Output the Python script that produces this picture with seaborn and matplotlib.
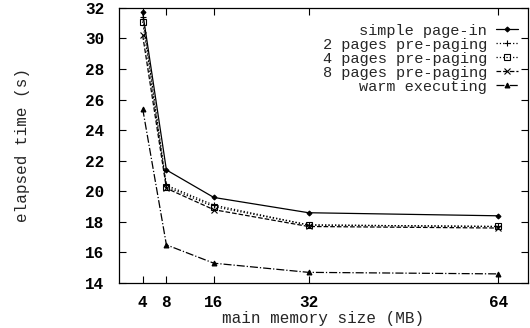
import matplotlib
matplotlib.use("Agg")
import matplotlib.pyplot as plt
import seaborn as sns
import pandas as pd

# memory sizes (MB) and elapsed times (s)
memory = [4, 8, 16, 32, 64]
simple_page_in = [31.7, 21.4, 19.6, 18.6, 18.4]
pages2 = [31.4, 20.4, 19.1, 17.8, 17.7]
pages4 = [31.1, 20.3, 19.0, 17.8, 17.7]
pages8 = [30.2, 20.2, 18.8, 17.7, 17.6]
warm = [25.4, 16.5, 15.3, 14.7, 14.6]

series = [
    ("simple page-in", simple_page_in, "-", "D", 2.5),
    ("2 pages pre-paging", pages2, ":", "+", 5),
    ("4 pages pre-paging", pages4, ":", "s", 4),
    ("8 pages pre-paging", pages8, "--", "x", 4),
    ("warm executing", warm, "-.", "^", 3.5),
]

sns.set_style("ticks")
plt.rcParams["font.family"] = ["Liberation Mono", "DejaVu Sans Mono"]
plt.rcParams["font.size"] = 11.5

fig = plt.figure(figsize=(5.3, 3.28), dpi=100)
ax = fig.add_axes([0.2245, 0.137, 0.7715, 0.839])

for name, vals, ls, mk, ms in series:
    df = pd.DataFrame({"mem": memory, "time": vals})
    sns.lineplot(data=df, x="mem", y="time", ax=ax, color="black",
                 linestyle=ls, linewidth=0.9, marker=mk, markersize=ms,
                 markeredgecolor="black", markerfacecolor="none" if mk == "s" else "black",
                 markeredgewidth=0.8, label=name)

ax.set_xlim(0, 69)
ax.set_ylim(14, 32)
ax.set_xticks(memory)
ax.set_yticks(range(14, 33, 2))
ax.tick_params(direction="in", length=5, width=0.8, top=True, right=True,
               labelsize=11.5, colors="black")
ax.tick_params(axis="y", pad=10.5)
ax.tick_params(axis="x", pad=8.5)
for lbl in ax.get_xticklabels() + ax.get_yticklabels():
    lbl.set_fontweight("bold")
for sp in ax.spines.values():
    sp.set_linewidth(0.9)
    sp.set_color("black")

ax.set_xlabel("main memory size (MB)", labelpad=1)
ax.set_ylabel("elapsed time (s)", labelpad=40)

ax.legend(loc="upper right", frameon=False, markerfirst=False, fontsize=11,
          handlelength=1.4, handletextpad=0.6, labelspacing=0.0,
          bbox_to_anchor=(0.99, 0.965), borderaxespad=0)

fig.savefig("out.png", dpi=100)
